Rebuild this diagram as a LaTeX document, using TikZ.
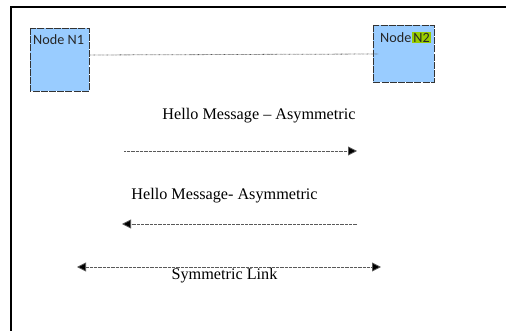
\documentclass[tikz,border=0pt]{standalone}
\usepackage{fontspec}
\setmainfont{Liberation Serif}
\newfontfamily\calfont{Carlito}
\usetikzlibrary{arrows.meta}
\definecolor{nodeblue}{RGB}{153,204,255}
\definecolor{hilite}{RGB}{153,204,0}
\begin{document}
\begin{tikzpicture}[x=1pt,y=-1pt,
  nodebox/.style={draw=black!80, fill=nodeblue, dash pattern=on 7pt off 1.2pt, line width=0.9pt},
  nodelabel/.style={font=\calfont\fontsize{14.2}{16}\selectfont, text=black!85, anchor=north west, inner sep=0pt},
  msg/.style={font=\fontsize{16.2}{19}\selectfont, inner sep=0pt},
  link/.style={draw=black!65, line width=0.8pt, dash pattern=on 0.6pt off 0.7pt},
  tipr/.style={-{Triangle[length=9pt,width=9pt,fill=black]}},
]
\useasboundingbox (0,0) rectangle (506,331);
\draw[line width=2.2pt] (11,331) -- (11,7) -- (506,7);
% nodes
\draw[nodebox] (30,28) rectangle (89,91);
\node[nodelabel] (n1) at (33,34) {Node N1};
\coordinate (n1e) at (89,55);
\draw[nodebox] (373,25) rectangle (434,82);
\node[nodelabel] (n2) at (380,32) {Node\hspace{1pt}\setlength{\fboxsep}{1pt}\colorbox{hilite}{N2}};
\coordinate (n2w) at (378,54);
\draw[link] (n1e) -- (n2w);
% messages
\node[msg] (m1) at (259,116) {Hello Message -- Asymmetric};
\coordinate (a1s) at (124,151);
\coordinate (a1e) at (357,151);
\draw[link, tipr] (a1s) -- (a1e);
\node[msg] (m2) at (224.5,196) {Hello Message- Asymmetric};
\coordinate (a2s) at (357,224);
\coordinate (a2e) at (122,224);
\draw[link, tipr] (a2s) -- (a2e);
\coordinate (a3s) at (77,267);
\coordinate (a3e) at (381,267);
\draw[link, {Triangle[length=9pt,width=9pt,fill=black]}-{Triangle[length=9pt,width=9pt,fill=black]}] (a3s) -- (a3e);
\node[msg] (m3) at (224.5,276) {Symmetric Link};
\end{tikzpicture}
\end{document}
